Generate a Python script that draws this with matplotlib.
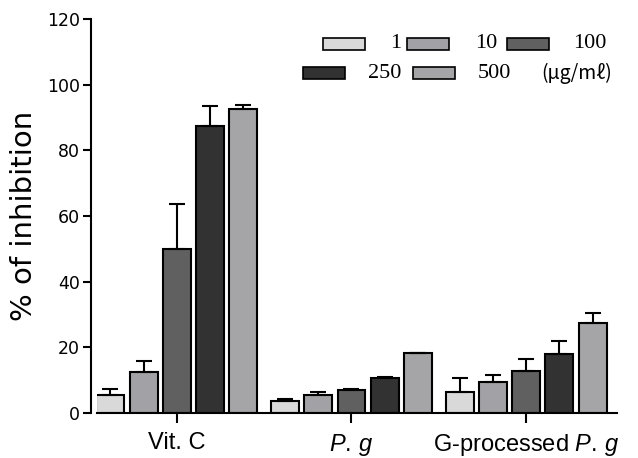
import matplotlib
matplotlib.use("Agg")
import matplotlib.pyplot as plt
from matplotlib.patches import Rectangle
import numpy as np

plt.rcParams["mathtext.fontset"] = "custom"
plt.rcParams["mathtext.it"] = "Liberation Sans:italic"
plt.rcParams["mathtext.rm"] = "Liberation Sans"

groups = ["Vit. C", "$\\it{P.\\,g}$", "G-processed $\\it{P.\\,g}$"]
concentrations = ["1", "10", "100", "250", "500"]
unit_label = "(μg/mℓ)"
# values per concentration, across groups
values = {
    "1":   [5.5, 3.7, 6.3],
    "10":  [12.4, 5.5, 9.5],
    "100": [49.9, 7.0, 12.8],
    "250": [87.5, 10.8, 17.9],
    "500": [92.7, 18.2, 27.5],
}
errors = {
    "1":   [1.7, 0.5, 4.5],
    "10":  [3.5, 0.8, 2.0],
    "100": [13.8, 0.2, 3.7],
    "250": [6.0, 0.3, 3.9],
    "500": [1.0, 0.0, 3.0],
}
colors = ["#d9d9d9", "#a2a2a6", "#606060", "#323232", "#a5a5a8"]
yticks = [0, 20, 40, 60, 80, 100, 120]

fig = plt.figure(figsize=(6.38, 4.58), dpi=100)
ax = fig.add_axes([97/638, 45/458, (617-97)/638, (413-19)/458])

x = np.arange(len(groups))
pitch = 0.19
width = 0.16
for i, c in enumerate(concentrations):
    pos = x + (i - 2) * pitch
    ax.bar(pos, values[c], width, color=colors[i], edgecolor="black", linewidth=1.5, zorder=2)
    ax.errorbar(pos, values[c], yerr=[np.zeros(len(groups)), errors[c]], fmt="none",
                ecolor="black", elinewidth=1.5, capsize=6, capthick=1.5, zorder=3)

ax.set_xlim(-0.457, 2.52)
ax.set_ylim(0, 120)
ax.set_yticks(yticks)
ax.set_yticklabels([str(v) for v in yticks])
ax.set_xticks(x)
ax.set_xticklabels(groups, fontsize=17, family="Liberation Sans")

ax.set_ylabel("% of inhibition", fontsize=21, family="DejaVu Sans", labelpad=6)
ax.spines["top"].set_visible(False)
ax.spines["right"].set_visible(False)
ax.spines["left"].set_linewidth(1.5)
ax.spines["bottom"].set_linewidth(1.5)
ax.spines["left"].set_position(("outward", 4.5))
ax.tick_params(axis="y", direction="out", length=6, width=1.5, pad=2, labelsize=12.5)
ax.tick_params(axis="x", direction="out", length=7.5, width=1.5, pad=6)
for lab in ax.get_yticklabels():
    lab.set_family("DejaVu Sans")

# legend drawn manually in axes fraction
def fx(px):
    return (px - 97) / (617 - 97)

def fy(py):
    return (413 - py) / (413 - 19)

leg_items = [
    (323, 44, 390, 0), (407, 44, 475, 1), (507, 44, 573, 2),
    (303, 73, 368, 3), (413, 73, 478, 4),
]
for (px0, py, tx, idx) in leg_items:
    r = Rectangle((fx(px0), fy(py + 6)), fx(px0 + 42) - fx(px0), fy(py - 6) - fy(py + 6),
                  transform=ax.transAxes, facecolor=colors[idx], edgecolor="black",
                  linewidth=1.2, clip_on=False, zorder=4)
    ax.add_patch(r)
    ax.text(fx(tx), fy(py), concentrations[idx], transform=ax.transAxes, ha="left", va="center",
            fontsize=16, family=["Liberation Serif", "DejaVu Serif"])
ax.text(fx(541), fy(73), unit_label, transform=ax.transAxes, ha="left", va="center",
        fontsize=14, family=["Noto Sans CJK KR", "DejaVu Serif"])

fig.savefig("out.png", dpi=100)
